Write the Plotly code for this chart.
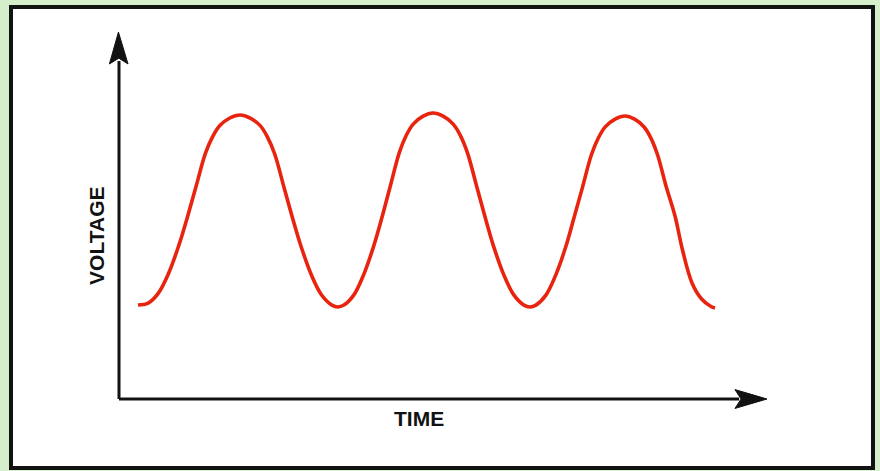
import plotly.graph_objects as go

# Waveform samples: time in ms, voltage in V
time_ms = [0.990, 1.516, 2.052, 2.583, 3.112, 3.536, 4.016, 4.495, 4.870, 5.240, 5.771, 6.302,
           6.833, 7.365, 7.734, 8.109, 8.589, 9.068, 9.492, 10.021, 10.552, 11.089, 11.406,
           11.714, 12.234, 12.745, 13.260, 13.672, 14.135, 14.604, 14.964, 15.323, 15.839, 16.354,
           16.880, 17.406, 17.776, 18.141, 18.620, 19.094, 19.510, 20.036, 20.563, 21.089, 21.406,
           21.714, 22.234, 22.745, 23.260, 23.672, 24.135, 24.604, 24.964, 25.323, 25.839, 26.354,
           26.854, 27.349, 27.703, 28.052, 28.490, 28.958, 29.349, 29.844, 30.344, 30.833, 31.042]
voltage = [4.896, 4.995, 5.516, 6.547, 7.990, 9.380, 11.078, 12.781, 13.651, 14.229, 14.635, 14.792,
           14.630, 14.224, 13.641, 12.760, 11.042, 9.323, 7.917, 6.458, 5.417, 4.891, 4.792,
           4.891, 5.422, 6.479, 7.948, 9.370, 11.107, 12.844, 13.734, 14.318, 14.734, 14.896,
           14.734, 14.318, 13.734, 12.844, 11.107, 9.370, 7.948, 6.479, 5.422, 4.891, 4.792,
           4.891, 5.411, 6.453, 7.901, 9.349, 11.010, 12.719, 13.594, 14.172, 14.578, 14.740,
           14.578, 14.167, 13.589, 12.708, 11.094, 9.531, 7.760, 6.042, 5.208, 4.818, 4.740]

axis_labels = {"x": "TIME", "y": "VOLTAGE"}

W, H = 880, 471
X_RANGE = [-6.198, 39.635]
Y_RANGE = [-3.75, 20.781]
INK = "#121212"
FONT = dict(family="Liberation Sans, Arial, sans-serif", size=21, color=INK)

fig = go.Figure()
fig.add_trace(go.Scatter(
    x=time_ms, y=voltage, mode="lines",
    line=dict(color="#e8240f", width=3.6, shape="spline", smoothing=1.0),
    hoverinfo="skip", showlegend=False,
))

shapes = [
    # white panel with dark frame
    dict(type="rect", xref="paper", yref="paper",
         x0=11 / W, x1=873 / W, y0=1 - 468 / H, y1=1 - 7 / H,
         fillcolor="white", line=dict(color=INK, width=4), layer="below"),
    # vertical axis
    dict(type="line", xref="x", yref="y", x0=0, y0=0, x1=0, y1=17.6,
         line=dict(color=INK, width=3)),
    dict(type="path", xref="x", yref="y",
         path="M -0.50 17.45 L -0.03 19.11 L 0.47 17.45 L -0.01 17.75 Z",
         fillcolor=INK, line=dict(color=INK, width=1)),
    # horizontal axis
    dict(type="line", xref="x", yref="y", x0=0, y0=0, x1=32.3, y1=0,
         line=dict(color=INK, width=3)),
    dict(type="path", xref="x", yref="y",
         path="M 32.08 0.49 L 33.75 0.0 L 32.08 -0.49 L 32.4 0 Z",
         fillcolor=INK, line=dict(color=INK, width=1)),
]

annotations = [
    dict(x=15.65, y=-1.02, xref="x", yref="y", text="<b>%s</b>" % axis_labels["x"],
         showarrow=False, font=FONT, xanchor="center", yanchor="middle"),
    dict(x=-1.15, y=8.49, xref="x", yref="y", text="<b>%s</b>" % axis_labels["y"],
         showarrow=False, font=FONT, textangle=-90, xanchor="center", yanchor="middle"),
]

fig.update_layout(
    width=W, height=H,
    margin=dict(l=0, r=0, t=0, b=0),
    paper_bgcolor="#d5eecb",
    plot_bgcolor="rgba(0,0,0,0)",
    xaxis=dict(range=X_RANGE, visible=False, fixedrange=True),
    yaxis=dict(range=Y_RANGE, visible=False, fixedrange=True),
    shapes=shapes,
    annotations=annotations,
)

fig.write_html("out.html", config={"displayModeBar": False})
